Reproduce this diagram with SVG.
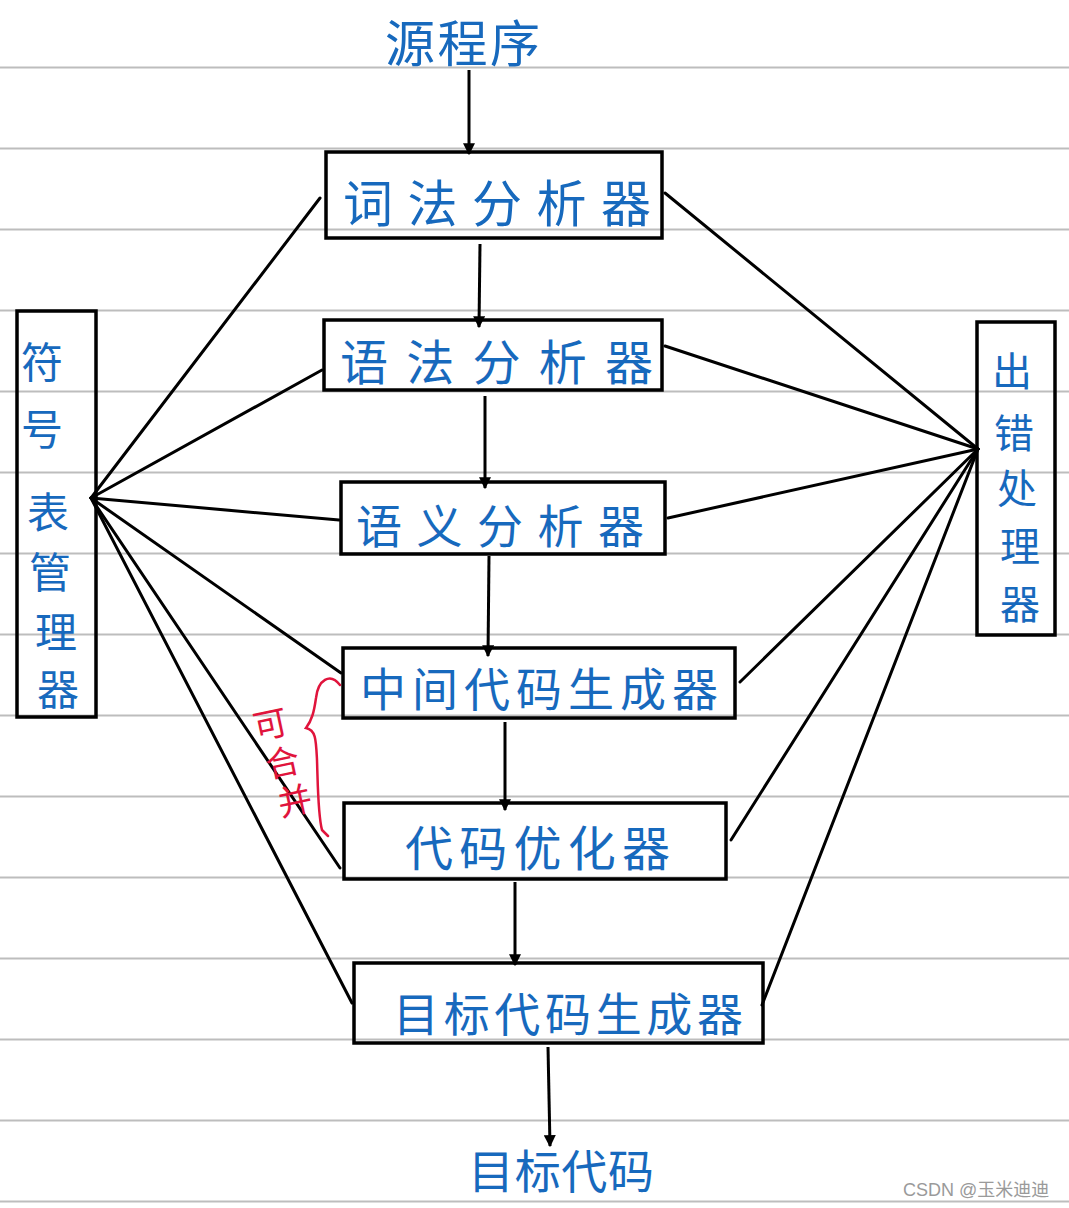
<svg xmlns="http://www.w3.org/2000/svg" width="1069" height="1208" viewBox="0 0 1069 1208">
<defs>
<marker id="ah" viewBox="0 0 10 10" refX="9" refY="5" markerWidth="4" markerHeight="4" orient="auto" markerUnits="strokeWidth">
<path d="M0,0 L10,5 L0,10 z" fill="#000"/>
</marker>
<style>
.rule{stroke:#bdbdbd;stroke-width:2}
.box{fill:none;stroke:#000;stroke-width:3.5}
.ln{stroke:#000;stroke-width:3;fill:none;stroke-linecap:round}
.ar{stroke:#000;stroke-width:3;fill:none;marker-end:url(#ah)}
.t{font-family:"Noto Sans CJK SC","Noto Sans",sans-serif;fill:#1769bd;font-weight:400}
.red{font-family:"Noto Sans CJK SC",sans-serif;fill:#e0143c}
.wm{font-family:"Liberation Sans","Noto Sans CJK SC",sans-serif;fill:#9a9a9a;font-size:18px}
</style>
</defs>
<rect width="1069" height="1208" fill="#fff"/>
<g id="rules">
<line class="rule" x1="0" y1="67.5" x2="1069" y2="67.5"/>
<line class="rule" x1="0" y1="148.5" x2="1069" y2="148.5"/>
<line class="rule" x1="0" y1="229.5" x2="1069" y2="229.5"/>
<line class="rule" x1="0" y1="310.5" x2="1069" y2="310.5"/>
<line class="rule" x1="0" y1="391.5" x2="1069" y2="391.5"/>
<line class="rule" x1="0" y1="472.5" x2="1069" y2="472.5"/>
<line class="rule" x1="0" y1="553.5" x2="1069" y2="553.5"/>
<line class="rule" x1="0" y1="634.5" x2="1069" y2="634.5"/>
<line class="rule" x1="0" y1="715.5" x2="1069" y2="715.5"/>
<line class="rule" x1="0" y1="796.5" x2="1069" y2="796.5"/>
<line class="rule" x1="0" y1="877.5" x2="1069" y2="877.5"/>
<line class="rule" x1="0" y1="958.5" x2="1069" y2="958.5"/>
<line class="rule" x1="0" y1="1039.5" x2="1069" y2="1039.5"/>
<line class="rule" x1="0" y1="1120.5" x2="1069" y2="1120.5"/>
<line class="rule" x1="0" y1="1201.5" x2="1069" y2="1201.5"/>
</g>
<g id="connectors">
<line class="ar" x1="469" y1="70" x2="469" y2="154"/>
<line class="ar" x1="480" y1="244" x2="479" y2="327"/>
<line class="ar" x1="485" y1="396" x2="485" y2="488"/>
<line class="ar" x1="489" y1="556" x2="488" y2="656"/>
<line class="ar" x1="505" y1="722" x2="505" y2="810"/>
<line class="ar" x1="515" y1="882" x2="515" y2="965"/>
<line class="ar" x1="548" y1="1047" x2="550" y2="1146"/>
<line class="ln" x1="91" y1="498" x2="320" y2="198"/>
<line class="ln" x1="91" y1="498" x2="322" y2="370"/>
<line class="ln" x1="91" y1="498" x2="339" y2="520"/>
<line class="ln" x1="91" y1="498" x2="341" y2="673"/>
<line class="ln" x1="91" y1="498" x2="340" y2="868"/>
<line class="ln" x1="91" y1="498" x2="352" y2="1003"/>
<line class="ln" x1="978" y1="449" x2="665" y2="193"/>
<line class="ln" x1="978" y1="449" x2="665" y2="346"/>
<line class="ln" x1="978" y1="449" x2="668" y2="518"/>
<line class="ln" x1="978" y1="449" x2="740" y2="682"/>
<line class="ln" x1="978" y1="449" x2="731" y2="840"/>
<line class="ln" x1="978" y1="449" x2="762" y2="1005"/>
</g>
<g id="src"><text class="t" x="385" y="62" font-size="50" textLength="155">源程序</text></g>
<g id="lex"><rect class="box" x="326" y="152" width="336" height="86"/><text class="t" x="343" y="222" font-size="50" textLength="308">词法分析器</text></g>
<g id="syn"><rect class="box" x="324" y="320" width="338" height="70"/><text class="t" x="340" y="380" font-size="48" textLength="313">语法分析器</text></g>
<g id="sem"><rect class="box" x="341" y="482" width="324" height="72"/><text class="t" x="356" y="543" font-size="46" textLength="288">语义分析器</text></g>
<g id="icg"><rect class="box" x="343" y="648" width="392" height="70"/><text class="t" x="360" y="706" font-size="46" textLength="358">中间代码生成器</text></g>
<g id="opt"><rect class="box" x="344" y="803" width="382" height="76"/><text class="t" x="405" y="866" font-size="48" textLength="265">代码优化器</text></g>
<g id="tcg"><rect class="box" x="354" y="963" width="409" height="80"/><text class="t" x="393" y="1031" font-size="46" textLength="350">目标代码生成器</text></g>
<g id="tgt"><text class="t" x="468" y="1188" font-size="46" textLength="186">目标代码</text></g>
<g id="symtab"><rect class="box" x="17" y="311" width="79" height="406"/>
<text class="t" font-size="42" text-anchor="middle"><tspan x="42" y="378">符</tspan><tspan x="42" y="445">号</tspan><tspan x="48" y="528">表</tspan><tspan x="50" y="588">管</tspan><tspan x="56" y="648">理</tspan><tspan x="58" y="705">器</tspan></text></g>
<g id="err"><rect class="box" x="977" y="322" width="78" height="313"/>
<text class="t" font-size="40" text-anchor="middle"><tspan x="1012" y="386">出</tspan><tspan x="1014" y="448">错</tspan><tspan x="1017" y="503">处</tspan><tspan x="1020" y="561">理</tspan><tspan x="1020" y="619">器</tspan></text></g>
<g id="merge-note">
<path d="M340,685 C330,672 318,680 316,698 C314,712 312,720 306,728 C316,730 316,740 317,760 C318,790 318,815 322,830 L328,836" fill="none" stroke="#e0143c" stroke-width="2.5" stroke-linecap="round"/>
<text class="red" font-size="34" transform="rotate(-12 282 760)" text-anchor="middle"><tspan x="278" y="735">可</tspan><tspan x="282" y="775">合</tspan><tspan x="286" y="815">并</tspan></text>
</g>
<text class="wm" x="903" y="1196">CSDN @玉米迪迪</text>
</svg>
